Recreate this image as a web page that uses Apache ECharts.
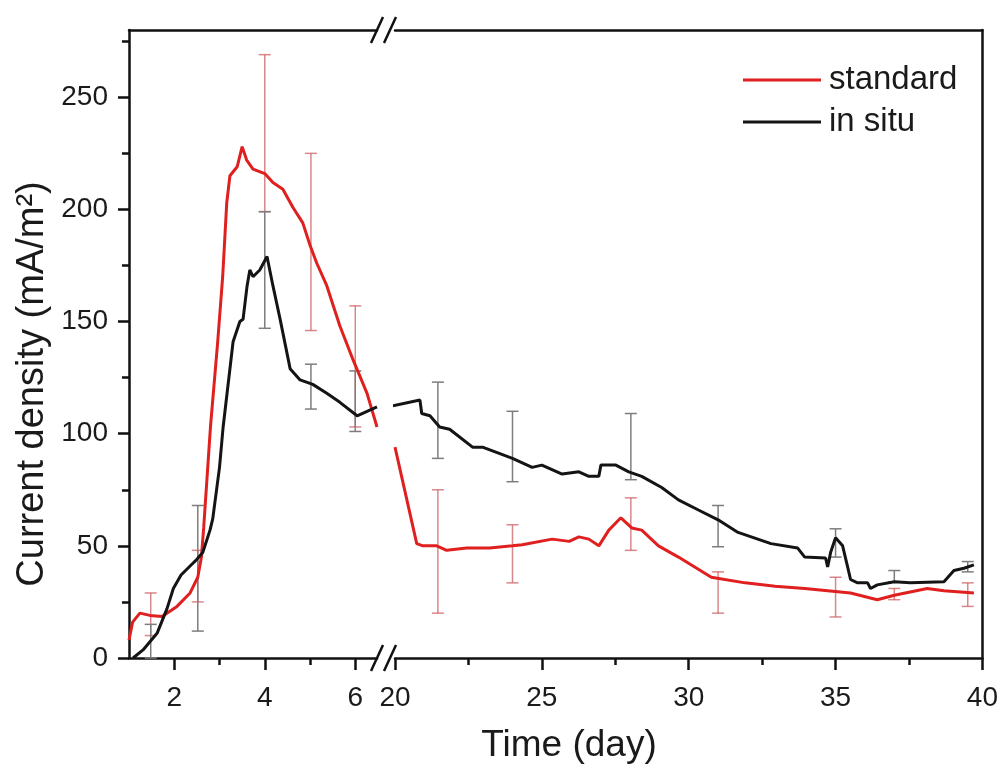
<!DOCTYPE html>
<html>
<head>
<meta charset="utf-8">
<script src="https://cdn.jsdelivr.net/npm/echarts@6/dist/echarts.min.js"></script>
<style>
  html, body { margin: 0; padding: 0; background: #fff; }
  #chart { width: 1001px; height: 765px; }
</style>
</head>
<body>
<div id="chart"></div>
<script>
// day, current density (mA/m2) -- left part of the broken axis (1-6.5 d)
const standardEarly = [
  [1.0, 8], [1.08, 16], [1.24, 20], [1.46, 19], [1.73, 18.5], [2.06, 23], [2.35, 29],
  [2.52, 36], [2.6, 45], [2.65, 58], [2.75, 88], [2.8, 103], [2.96, 141], [3.07, 170],
  [3.16, 203], [3.23, 215], [3.39, 219], [3.5, 228], [3.6, 222], [3.74, 218], [4.0, 216],
  [4.18, 212], [4.4, 209], [4.62, 201], [4.84, 194], [5.0, 184], [5.15, 176], [5.37, 166],
  [5.66, 148], [5.95, 133], [6.26, 118], [6.48, 103]
];
const insituEarly = [
  [1.09, 0], [1.31, 3.6], [1.62, 11], [1.84, 22], [1.98, 31], [2.15, 37], [2.35, 41],
  [2.5, 44], [2.63, 47], [2.79, 57], [2.85, 62], [3.0, 85], [3.08, 103], [3.3, 141], [3.45, 150],
  [3.52, 151], [3.61, 166], [3.67, 173], [3.74, 170], [3.89, 173], [4.05, 179], [4.18, 166],
  [4.34, 151], [4.56, 129], [4.78, 124], [5.06, 122], [5.37, 118], [5.66, 114], [6.04, 108],
  [6.26, 110], [6.48, 112]
];
// right part of the broken axis (20-40 d)
const standardLate = [
  [20.0, 94], [20.74, 51], [20.95, 50], [21.42, 50], [21.76, 48], [22.44, 49], [23.22, 49],
  [24.0, 50], [24.33, 50.5], [25.35, 53], [25.93, 52], [26.26, 54], [26.6, 53], [26.94, 50],
  [27.28, 57], [27.69, 62.5], [28.06, 58], [28.4, 57], [28.97, 50], [29.65, 45], [30.77, 36],
  [31.92, 33.5], [32.94, 32], [33.95, 31], [34.73, 30], [35.51, 29], [36.42, 26], [37.0, 28],
  [38.12, 31], [38.69, 30], [39.71, 29]
];
const insituLate = [
  [19.93, 112.5], [20.85, 115], [20.91, 109], [21.19, 108], [21.52, 103], [21.86, 102],
  [22.64, 94], [22.98, 94], [24.0, 89], [24.67, 85], [25.0, 86], [25.69, 82], [26.26, 83],
  [26.6, 81], [26.94, 81], [27.01, 86], [27.52, 86], [27.96, 83], [28.4, 81], [29.08, 76],
  [29.65, 70.5], [30.33, 66], [31.0, 61.6], [31.68, 56], [32.8, 51], [33.71, 49], [33.95, 45],
  [34.66, 44.6], [34.73, 40.6], [34.83, 47], [35.0, 53.6], [35.24, 50], [35.41, 40.6],
  [35.51, 35], [35.75, 33.5], [36.09, 33.5], [36.19, 31], [36.42, 32.6], [37.0, 34],
  [37.54, 33.5], [38.69, 34], [39.03, 39], [39.37, 40], [39.71, 41.5]
];
// error bars: day, low, high
const standardErrEarly = [[1.48, 10, 29], [2.52, 25, 48], [4.0, 199, 269], [5.02, 146, 225], [6.0, 103, 157]];
const insituErrEarly = [[1.48, 0, 15], [2.52, 12, 68], [4.0, 147, 199], [5.02, 111, 131], [6.0, 101, 128]];
const standardErrLate = [[21.46, 20, 75], [24.0, 33.5, 59.4], [28.03, 48, 71.4], [31.0, 20, 38.4], [35.0, 18.3, 36], [37.0, 26, 31], [39.5, 23, 33.5]];
const insituErrLate = [[21.46, 89, 123], [24.0, 78.6, 110], [28.03, 79.5, 109], [31.0, 49.6, 68], [35.0, 45, 57.6], [37.0, 34, 39], [39.5, 38.4, 43]];

const yMajorTicks = [0, 50, 100, 150, 200, 250];
const yMinorTicks = [25, 75, 125, 175, 225, 275];
const xEarlyMajorTicks = [2, 4, 6];
const xEarlyMinorTicks = [3, 5];

const FONT = '"Liberation Sans", Arial, Helvetica, sans-serif';
const RED = '#e01f1f';
const BLACK = '#141414';
const RED_BAR = 'rgba(205, 95, 100, 0.75)';
const GREY_BAR = '#7d7d7d';

const grid0 = { left: 129, top: 30, width: 248, height: 628 };
const grid1 = { left: 395, top: 30, width: 591, height: 628 };

const axisLineStyle = { color: '#111', width: 2.5 };

const renderErrorBar = (color) => (params, api) => {
  const x = api.value(0);
  const lo = api.coord([x, api.value(1)]);
  const hi = api.coord([x, api.value(2)]);
  const half = 6;
  const style = { stroke: color, lineWidth: 1.5 };
  return {
    type: 'group',
    children: [
      { type: 'line', shape: { x1: lo[0], y1: lo[1], x2: hi[0], y2: hi[1] }, style },
      { type: 'line', shape: { x1: lo[0] - half, y1: lo[1], x2: lo[0] + half, y2: lo[1] }, style },
      { type: 'line', shape: { x1: hi[0] - half, y1: hi[1], x2: hi[0] + half, y2: hi[1] }, style }
    ]
  };
};

const errSeries = (data, color, xi, yi) => ({
  type: 'custom',
  xAxisIndex: xi,
  yAxisIndex: yi,
  renderItem: renderErrorBar(color),
  encode: { x: 0, y: [1, 2] },
  data: data,
  z: 1,
  silent: true
});

const lineSeries = (name, data, color, xi, yi) => ({
  name: name,
  type: 'line',
  xAxisIndex: xi,
  yAxisIndex: yi,
  data: data,
  symbol: 'none',
  color: color,
  lineStyle: { color: color, width: 3 },
  z: 3
});

// double-slash break marks
const slash = (cx, cy) => ({
  type: 'line',
  shape: { x1: cx - 6, y1: cy + 13, x2: cx + 6, y2: cy - 13 },
  style: { stroke: '#111', lineWidth: 2.5 },
  z: 10
});
const breakMarks = [];
[grid0.top, grid0.top + grid0.height].forEach(y => {
  breakMarks.push(slash(grid0.left + grid0.width, y));
  breakMarks.push(slash(grid1.left - 5, y));
});

const option = {
  animation: false,
  backgroundColor: '#fff',
  textStyle: { fontFamily: FONT },
  grid: [grid0, grid1],
  legend: {
    orient: 'vertical',
    left: 738,
    top: 58,
    icon: 'rect',
    itemWidth: 78,
    itemHeight: 3,
    itemGap: 8,
    data: ['standard', 'in situ'],
    textStyle: { fontFamily: FONT, fontSize: 33, color: '#1a1a1a', lineHeight: 34, padding: [0, 0, 0, 3] }
  },
  xAxis: [
    {
      gridIndex: 0, type: 'value', position: 'bottom', min: 1, max: 6.48,
      axisLine: { lineStyle: axisLineStyle },
      axisTick: { customValues: xEarlyMajorTicks, length: 12, lineStyle: { color: '#111', width: 2.5 } },
      axisLabel: { customValues: xEarlyMajorTicks, margin: 26, fontSize: 28, color: '#1a1a1a', fontFamily: FONT },
      splitLine: { show: false }
    },
    {
      gridIndex: 0, type: 'value', position: 'bottom', min: 1, max: 6.48,
      axisLine: { show: false },
      axisTick: { customValues: xEarlyMinorTicks, length: 7, lineStyle: { color: '#111', width: 2.5 } },
      axisLabel: { show: false },
      splitLine: { show: false }
    },
    {
      gridIndex: 0, type: 'value', position: 'top', min: 1, max: 6.48,
      axisLine: { lineStyle: axisLineStyle },
      axisTick: { show: false }, axisLabel: { show: false }, splitLine: { show: false }
    },
    {
      gridIndex: 1, type: 'value', position: 'bottom', min: 20, max: 40, interval: 5,
      axisLine: { lineStyle: axisLineStyle },
      axisTick: { length: 12, lineStyle: { color: '#111', width: 2.5 } },
      minorTick: { show: true, splitNumber: 2, length: 7, lineStyle: { color: '#111', width: 2.5 } },
      axisLabel: { margin: 26, fontSize: 28, color: '#1a1a1a', fontFamily: FONT },
      splitLine: { show: false }
    },
    {
      gridIndex: 1, type: 'value', position: 'top', min: 20, max: 40,
      axisLine: { lineStyle: axisLineStyle },
      axisTick: { show: false }, axisLabel: { show: false }, splitLine: { show: false }
    }
  ],
  yAxis: [
    {
      gridIndex: 0, type: 'value', position: 'left', min: 0, max: 280,
      axisLine: { show: true, lineStyle: axisLineStyle },
      axisTick: { show: true, customValues: yMajorTicks, length: 11, lineStyle: { color: '#111', width: 2.5 } },
      axisLabel: { customValues: yMajorTicks, margin: 21, fontSize: 28, color: '#1a1a1a', fontFamily: FONT },
      splitLine: { show: false }
    },
    {
      gridIndex: 0, type: 'value', position: 'left', min: 0, max: 280,
      axisLine: { show: false },
      axisTick: { show: true, customValues: yMinorTicks, length: 7, lineStyle: { color: '#111', width: 2.5 } },
      axisLabel: { show: false },
      splitLine: { show: false }
    },
    {
      gridIndex: 1, type: 'value', position: 'right', min: 0, max: 280,
      axisLine: { show: true, lineStyle: axisLineStyle },
      axisTick: { show: false }, axisLabel: { show: false }, splitLine: { show: false }
    }
  ],
  graphic: breakMarks.concat([
    {
      type: 'text', x: 569, y: 746,
      style: { text: 'Time (day)', font: '37px ' + FONT, fill: '#1a1a1a', align: 'center', verticalAlign: 'middle' }
    },
    {
      type: 'text', x: 33, y: 384, rotation: Math.PI / 2,
      style: { text: 'Current density (mA/m²)', font: '38px ' + FONT, fill: '#1a1a1a', align: 'center', verticalAlign: 'middle' }
    }
  ]),
  series: [
    errSeries(standardErrEarly, RED_BAR, 0, 0),
    errSeries(insituErrEarly, GREY_BAR, 0, 0),
    errSeries(standardErrLate, RED_BAR, 3, 2),
    errSeries(insituErrLate, GREY_BAR, 3, 2),
    lineSeries('standard', standardEarly, RED, 0, 0),
    lineSeries('in situ', insituEarly, BLACK, 0, 0),
    lineSeries('standard', standardLate, RED, 3, 2),
    lineSeries('in situ', insituLate, BLACK, 3, 2)
  ]
};

const chart = echarts.init(document.getElementById('chart'));
chart.setOption(option);
</script>
</body>
</html>
